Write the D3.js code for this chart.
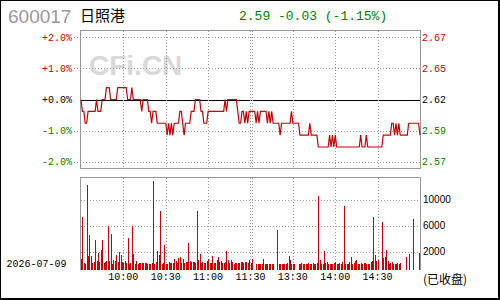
<!DOCTYPE html>
<html><head><meta charset="utf-8">
<script src="https://cdn.jsdelivr.net/npm/d3@7"></script>
<style>html,body{margin:0;padding:0;background:#fff;}svg{display:block;}</style>
</head><body>
<svg id="c" width="500" height="300"></svg>
<script>
// ---- data ----
const stockCode = "600017";
const stockName = "日照港";
const quoteText = "2.59 -0.03 (-1.15%)";
const prevClose = 2.62;
const dateLabel = "2026-07-09";
const closedLabel = "(已收盘)";
const pctTicks = [2, 1, 0, -1, -2];
const pctLabels = ["+2.0%", "+1.0%", "+0.0%", "-1.0%", "-2.0%"];
const priceLabels = ["2.67", "2.65", "2.62", "2.59", "2.57"];
const timeTicks = [30, 60, 90, 120, 150, 180, 210];
const timeLabels = ["10:00", "10:30", "11:00", "11:30", "13:30", "14:00", "14:30"];
const volTicks = [10000, 6000, 2000];
const volLabels = ["10000", "6000", "2000"];
// minute prices, 241 points (09:30..11:30, 13:01..15:00)
const prices = [
2.62,2.61,2.61,2.60,2.60,2.61,2.61,2.61,2.61,2.61,
2.61,2.62,2.61,2.61,2.61,2.62,2.62,2.62,2.63,2.63,
2.63,2.62,2.62,2.62,2.62,2.62,2.63,2.63,2.63,2.63,
2.63,2.63,2.63,2.62,2.62,2.62,2.63,2.62,2.62,2.62,
2.62,2.62,2.62,2.61,2.62,2.62,2.62,2.62,2.61,2.61,
2.60,2.61,2.61,2.61,2.60,2.60,2.60,2.60,2.60,2.60,
2.60,2.59,2.60,2.59,2.60,2.59,2.60,2.60,2.60,2.60,
2.61,2.61,2.60,2.59,2.60,2.60,2.60,2.60,2.61,2.61,
2.61,2.62,2.62,2.62,2.62,2.61,2.61,2.60,2.60,2.60,
2.61,2.61,2.61,2.61,2.61,2.61,2.61,2.61,2.61,2.61,
2.61,2.61,2.62,2.61,2.62,2.62,2.62,2.62,2.62,2.62,
2.62,2.61,2.60,2.60,2.61,2.61,2.60,2.61,2.60,2.61,
2.61,2.61,2.61,2.61,2.60,2.61,2.60,2.61,2.61,2.61,
2.61,2.61,2.60,2.61,2.60,2.61,2.60,2.60,2.60,2.60,
2.60,2.59,2.60,2.60,2.60,2.60,2.60,2.60,2.60,2.61,
2.60,2.60,2.60,2.60,2.60,2.59,2.59,2.59,2.59,2.59,
2.59,2.59,2.60,2.59,2.59,2.59,2.59,2.59,2.58,2.58,
2.58,2.58,2.58,2.58,2.58,2.58,2.59,2.58,2.59,2.58,
2.59,2.58,2.58,2.58,2.58,2.58,2.58,2.58,2.58,2.58,
2.58,2.58,2.58,2.58,2.58,2.58,2.58,2.58,2.59,2.58,
2.58,2.58,2.59,2.58,2.58,2.58,2.58,2.58,2.58,2.58,
2.58,2.58,2.58,2.58,2.59,2.59,2.59,2.59,2.59,2.59,
2.60,2.60,2.59,2.60,2.59,2.60,2.59,2.59,2.59,2.59,
2.59,2.59,2.60,2.60,2.60,2.60,2.60,2.60,2.60,2.60,
2.59];
const volumes = [
870,7370,200,150,12320,1330,4580,1330,200,450,
3810,500,1850,350,2260,3810,200,350,560,5980,
560,4740,40,710,560,1490,350,1950,1490,350,
200,560,200,4170,90,200,5980,1640,20,560,
20,250,200,250,200,250,250,20,40,20,
200,12840,20,350,2110,1490,8190,150,300,3030,
90,90,350,200,200,300,870,560,200,1070,
1180,200,870,300,450,350,3340,560,350,450,
350,300,8190,710,1640,250,350,200,200,560,
870,250,250,1330,200,250,710,1230,350,560,
200,200,350,2110,710,200,650,350,40,250,
200,200,200,350,350,200,350,350,200,710,
300,870,0,0,90,90,40,20,40,870,
40,20,20,20,20,20,20,0,0,5360,
20,40,40,40,40,150,200,1330,710,40,
40,40,0,0,20,40,200,20,40,20,
40,200,20,20,200,40,40,200,10610,710,
20,20,2110,200,450,40,40,40,40,200,
350,20,20,200,40,350,9070,40,40,40,
350,1230,40,200,560,710,40,40,200,40,
200,200,40,40,40,350,560,7260,1490,560,
710,0,0,6490,1070,1230,2260,560,40,200,
350,40,40,40,200,40,200,0,0,0,
1180,0,1640,0,0,7050,0,0,0,0,
1800];

// ---- chart ----
const svg = d3.select("#c");
const RED = "#cc0000", GREEN = "#008000", GRID = "#999";
const PL = 81, PR = 420, PT = 31, PB = 168, VT = 178, VB = 270;

const x = d3.scaleLinear().domain([0, 240]).range([PL, PR]);
const yPct = d3.scaleLinear().domain([-2, 2]).range([161.7, 37.3]);
const yVol = d3.scaleLinear().domain([-840, 13350]).range([VB, VT]);
const pct = p => (p - prevClose) / prevClose * 100;
const colorFor = v => v > 0 ? RED : (v < 0 ? GREEN : "#000");

// outer frame
svg.append("line").attr("x1",0).attr("x2",500).attr("y1",0.5).attr("y2",0.5).attr("stroke","#000");
svg.append("line").attr("x1",0.5).attr("x2",0.5).attr("y1",0).attr("y2",300).attr("stroke","#000");
svg.append("line").attr("x1",499).attr("x2",499).attr("y1",0).attr("y2",300).attr("stroke","#000").attr("stroke-width",2);
svg.append("line").attr("x1",0).attr("x2",500).attr("y1",299).attr("y2",299).attr("stroke","#000").attr("stroke-width",2);

// header
svg.append("text").attr("x",8).attr("y",23.3).attr("font-family","Liberation Sans, Arial, sans-serif")
  .attr("font-size",19).attr("fill","#999").text(stockCode);
svg.append("text").attr("x",80).attr("y",21).attr("font-family","Noto Sans CJK SC, sans-serif")
  .attr("font-size",15).attr("fill","#000").text(stockName);
svg.append("text").attr("x",239).attr("y",19.5).attr("font-family","Liberation Mono, monospace")
  .attr("font-size",13).attr("fill",GREEN).text(quoteText);

// watermark
svg.append("text").attr("x",89).attr("y",75).attr("font-family","Liberation Sans, Arial, sans-serif")
  .attr("font-weight","bold").attr("font-size",28).attr("fill","#d9d9d9").text("CFi.CN");

const g = svg.append("g").attr("shape-rendering","crispEdges");

// price panel horizontal grid
pctTicks.forEach((t, i) => {
  const yy = Math.round(yPct(t)) + 0.5;
  if (t === 0) {
    g.append("line").attr("x1",PL).attr("x2",PR).attr("y1",yy).attr("y2",yy).attr("stroke","#000");
  } else {
    g.append("line").attr("x1",74).attr("x2",PR).attr("y1",yy).attr("y2",yy)
      .attr("stroke",GRID).attr("stroke-dasharray","1,2");
  }
  svg.append("text").attr("x",72).attr("y",yPct(t)+3.5).attr("text-anchor","end")
    .attr("font-family","Liberation Mono, monospace").attr("font-size",10)
    .attr("fill",colorFor(t)).text(pctLabels[i]);
  svg.append("text").attr("x",422).attr("y",yPct(t)+3.5)
    .attr("font-family","Liberation Mono, monospace").attr("font-size",10)
    .attr("fill",colorFor(t)).text(priceLabels[i]);
});

// vertical grid (both panels)
const vx = [];
timeTicks.forEach(t => {
  if (t === 120) { vx.push(Math.round(x(t)) - 1); vx.push(Math.round(x(t)) + 1); }
  else vx.push(Math.round(x(t)));
});
vx.forEach(xx => {
  g.append("line").attr("x1",xx+0.5).attr("x2",xx+0.5).attr("y1",PT).attr("y2",PB)
    .attr("stroke",GRID).attr("stroke-dasharray","1,2");
  g.append("line").attr("x1",xx+0.5).attr("x2",xx+0.5).attr("y1",VT).attr("y2",VB)
    .attr("stroke",GRID).attr("stroke-dasharray","1,2");
});

// volume horizontal grid + labels
volTicks.forEach((t, i) => {
  const yy = Math.round(yVol(t)) + 0.5;
  g.append("line").attr("x1",PL).attr("x2",PR).attr("y1",yy).attr("y2",yy)
    .attr("stroke",GRID).attr("stroke-dasharray","1,2");
  svg.append("text").attr("x",423).attr("y",yVol(t)+3.5)
    .attr("font-family","Liberation Sans, Arial, sans-serif").attr("font-size",10)
    .attr("fill","#000").text(volLabels[i]);
});

// volume bars
g.selectAll("rect.v").data(volumes.map((v, i) => ({v, i})).filter(d => d.v > 0))
  .enter().append("rect").attr("class","v")
  .attr("x", d => Math.min(Math.round(x(d.i)), PR - 1))
  .attr("width", 1)
  .attr("y", d => Math.round(yVol(d.v)))
  .attr("height", d => VB - Math.round(yVol(d.v)))
  .attr("fill", RED);

// price line
svg.append("path").datum(prices)
  .attr("d", d3.line().x((d, i) => x(i)).y(d => yPct(pct(d))))
  .attr("fill","none").attr("stroke",RED).attr("stroke-width",1.2);

// panel borders
g.append("rect").attr("x",PL-0.5).attr("y",PT-0.5).attr("width",PR-PL+1).attr("height",PB-PT+1)
  .attr("fill","none").attr("stroke",GRID);
g.append("path").attr("d",`M${PL-0.5},${VB}V${VT-0.5}H${PR+0.5}V${VB}`)
  .attr("fill","none").attr("stroke",GRID);

// time labels
timeTicks.forEach((t, i) => {
  svg.append("text").attr("x",x(t)).attr("y",280).attr("text-anchor","middle")
    .attr("font-family","Liberation Mono, monospace").attr("font-size",10)
    .attr("fill","#000").text(timeLabels[i]);
});
svg.append("text").attr("x",6.5).attr("y",266.5)
  .attr("font-family","Liberation Mono, monospace").attr("font-size",10)
  .attr("fill","#000").text(dateLabel);
svg.append("text").attr("x",423).attr("y",284)
  .attr("font-family","Noto Sans CJK SC, sans-serif").attr("font-size",12)
  .attr("fill","#000").text(closedLabel);
</script>
</body></html>
